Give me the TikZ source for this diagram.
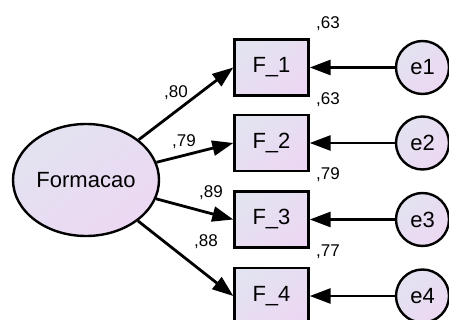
\documentclass[tikz,border=0pt]{standalone}
\usepackage{fontspec}
\setmainfont{Liberation Sans}
\usetikzlibrary{arrows.meta,shadings,shapes.geometric}
\definecolor{shadeA}{HTML}{E1E5F1}
\definecolor{shadeB}{HTML}{EED5F2}
\tikzset{
  pastel/.style={draw=black, line width=2.4pt,
    upper left=shadeA, lower right=shadeB, upper right=shadeA!50!shadeB, lower left=shadeA!50!shadeB},
  latent/.style={pastel, ellipse, minimum width=146pt, minimum height=112pt, inner sep=0pt, font=\fontsize{22}{22}\selectfont},
  observed/.style={pastel, rectangle, minimum width=74pt, minimum height=56pt, inner sep=0pt, font=\fontsize{22}{22}\selectfont},
  errterm/.style={pastel, circle, minimum size=53pt, inner sep=0pt, font=\fontsize{22}{22}\selectfont},
  coef/.style={font=\fontsize{17}{17}\selectfont, inner sep=0pt},
  path arrow/.style={line width=2.8pt, -{Triangle[length=21pt, width=15pt]}}
}
\begin{document}
\begin{tikzpicture}[x=1pt, y=-1pt]
  \useasboundingbox (0,0) rectangle (449,320);
  % latent factor
  \node[latent] (form) at (86,180) {Formacao};
  % indicators
  \node[observed] (f1) at (271.5,67.5) {F\_1};
  \node[observed] (f2) at (271.5,143) {F\_2};
  \node[observed] (f3) at (271.5,219.5) {F\_3};
  \node[observed] (f4) at (271.5,296) {F\_4};
  % error terms
  \node[errterm] (e1) at (422.5,67.5) {e1};
  \node[errterm] (e2) at (422.5,143) {e2};
  \node[errterm] (e3) at (422.5,219.5) {e3};
  \node[errterm] (e4) at (422.5,296) {e4};
  % loadings
  \foreach \k in {1,...,4} {
    \draw[path arrow] (form) -- (f\k.west);
    \draw[path arrow] (e\k.west) -- (f\k.east);
  }
  % standardized loadings
  \node[coef] (l1) at (176,93) {,80};
  \node[coef] (l2) at (184,142) {,79};
  \node[coef] (l3) at (211,193) {,89};
  \node[coef] (l4) at (206,242) {,88};
  % squared multiple correlations
  \node[coef] (r1) at (328,24) {,63};
  \node[coef] (r2) at (328,100) {,63};
  \node[coef] (r3) at (328,175) {,79};
  \node[coef] (r4) at (328,252) {,77};
\end{tikzpicture}
\end{document}
